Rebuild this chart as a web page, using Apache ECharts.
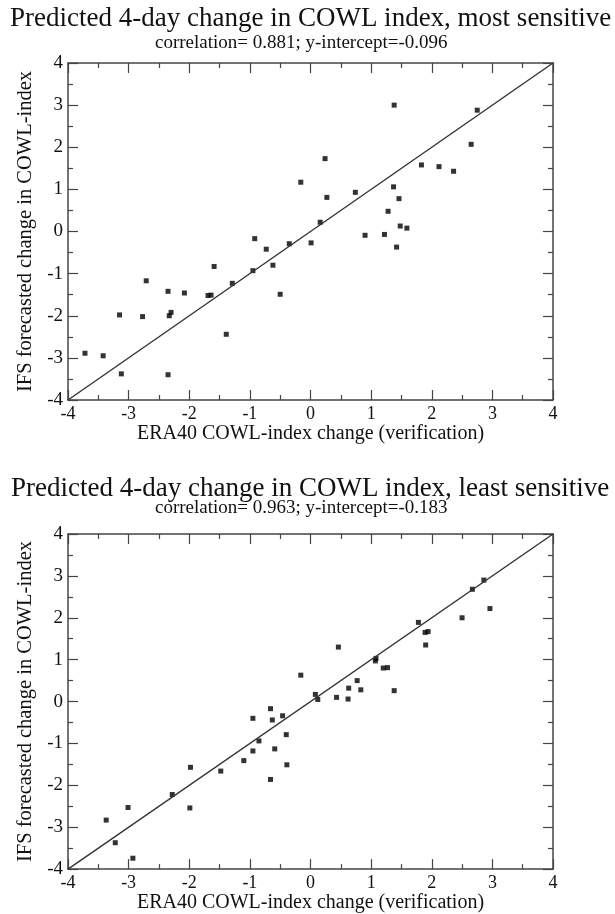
<!DOCTYPE html>
<html>
<head>
<meta charset="utf-8">
<script src="https://cdn.jsdelivr.net/npm/echarts@6/dist/echarts.min.js"></script>
<style>
  html, body {margin: 0; padding: 0; background: #fff;}
  #main {width: 615px; height: 914px;}
</style>
</head>
<body>
<div id="main"></div>
<script>
// top panel: most sensitive
const topX = [-3.72, -3.42, -3.15, -3.12, -2.77, -2.71, -2.35, -2.35, -2.33, -2.30, -2.08, -1.69, -1.64, -1.59,
  -1.39, -1.29, -0.95, -0.92, -0.73, -0.62, -0.50, -0.35, -0.16, 0.01, 0.16, 0.24, 0.27, 0.74, 0.90, 1.22,
  1.28, 1.37, 1.38, 1.42, 1.46, 1.48, 1.59, 1.83, 2.12, 2.36, 2.65, 2.75];
const topY = [-2.89, -2.95, -1.98, -3.38, -2.02, -1.17, -1.42, -3.40, -2.00, -1.92, -1.46, -1.52, -1.51, -0.83,
  -2.44, -1.23, -0.93, -0.17, -0.42, -0.80, -1.49, -0.29, 1.17, -0.27, 0.22, 1.73, 0.81, 0.93, -0.09, -0.07,
  0.48, 1.06, 3.00, -0.37, 0.78, 0.13, 0.08, 1.58, 1.54, 1.43, 2.07, 2.88];

// bottom panel: least sensitive
const bottomX = [-3.37, -3.22, -3.01, -2.93, -2.28, -1.99, -1.98, -1.48, -1.10, -0.95, -0.95, -0.85, -0.66, -0.66,
  -0.63, -0.59, -0.46, -0.40, -0.39, -0.16, 0.08, 0.12, 0.43, 0.46, 0.62, 0.63, 0.77, 0.83, 1.07, 1.08,
  1.20, 1.27, 1.38, 1.78, 1.89, 1.94, 1.90, 2.50, 2.67, 2.86, 2.96];
const bottomY = [-2.83, -3.37, -2.53, -3.74, -2.22, -2.54, -1.57, -1.66, -1.41, -0.40, -1.18, -0.94, -0.17, -1.86,
  -0.44, -1.13, -0.34, -0.79, -1.51, 0.63, 0.17, 0.05, 0.10, 1.30, 0.06, 0.32, 0.50, 0.28, 0.97, 1.03,
  0.80, 0.81, 0.26, 1.89, 1.65, 1.67, 1.35, 2.00, 2.68, 2.90, 2.22];

// fitted line drawn corner to corner
const fitLine = [[-4, -4], [4, 4]];
const axisMin = -4, axisMax = 4, axisStep = 1;

const titles = ['Predicted 4-day change in COWL index, most sensitive',
  'Predicted 4-day change in COWL index, least sensitive'];
const subtitles = ['correlation= 0.881; y-intercept=-0.096', 'correlation= 0.963; y-intercept=-0.183'];
const xName = 'ERA40 COWL-index change (verification)';
const yName = 'IFS forecasted change in COWL-index';

const serif = "'Liberation Serif', 'Times New Roman', serif";
const frameColor = '#444';

const zip = (xs, ys) => xs.map((x, i) => [x, ys[i]]);

const axisBase = (gridIndex, position, showLabel) => ({
  type: 'value',
  gridIndex,
  position,
  min: axisMin,
  max: axisMax,
  interval: axisStep,
  splitLine: {show: false},
  axisLine: {show: true, onZero: false, lineStyle: {color: frameColor, width: 1.5}},
  axisTick: {show: true, inside: true, length: 10, lineStyle: {color: frameColor, width: 1.2}},
  minorTick: {show: true, splitNumber: 2, length: 5, lineStyle: {color: frameColor, width: 1.2}},
  axisLabel: {show: showLabel, color: '#111', fontFamily: serif, fontSize: 18},
});

const xAxes = [], yAxes = [];
[0, 1].forEach(g => {
  xAxes.push(Object.assign(axisBase(g, 'bottom', true), {
    name: xName, nameLocation: 'middle', nameGap: 21,
    nameTextStyle: {color: '#111', fontFamily: serif, fontSize: 20},
    axisLabel: {show: true, color: '#111', fontFamily: serif, fontSize: 18, margin: 5},
  }));
  xAxes.push(axisBase(g, 'top', false));
  yAxes.push(Object.assign(axisBase(g, 'left', true), {
    name: yName, nameLocation: 'middle', nameGap: 24,
    nameTextStyle: {color: '#111', fontFamily: serif, fontSize: 20.5},
    axisLabel: {show: true, color: '#111', fontFamily: serif, fontSize: 19, margin: 5},
  }));
  yAxes.push(axisBase(g, 'right', false));
});

const chart = echarts.init(document.getElementById('main'), null, {renderer: 'canvas'});
chart.setOption({
  animation: false,
  backgroundColor: '#fff',
  title: [
    {text: titles[0], left: 10, top: 5, padding: 0, textStyle: {color: '#111', fontFamily: serif, fontSize: 27, fontWeight: 'normal'}},
    {text: subtitles[0], left: 155, top: 34, padding: 0, textStyle: {color: '#111', fontFamily: serif, fontSize: 19, fontWeight: 'normal'}},
    {text: titles[1], left: 11, top: 475, padding: 0, textStyle: {color: '#111', fontFamily: serif, fontSize: 27, fontWeight: 'normal'}},
    {text: subtitles[1], left: 155, top: 499, padding: 0, textStyle: {color: '#111', fontFamily: serif, fontSize: 19, fontWeight: 'normal'}},
  ],
  grid: [
    {left: 68, top: 63, width: 485, height: 337},
    {left: 68, top: 534, width: 485, height: 337},
  ],
  xAxis: xAxes,
  yAxis: yAxes,
  series: [
    {type: 'line', xAxisIndex: 0, yAxisIndex: 0, data: fitLine, showSymbol: false, lineStyle: {color: '#333', width: 1.4}},
    {type: 'scatter', xAxisIndex: 0, yAxisIndex: 0, data: zip(topX, topY), symbol: 'rect', symbolSize: 5, itemStyle: {color: '#000'}},
    {type: 'line', xAxisIndex: 2, yAxisIndex: 2, data: fitLine, showSymbol: false, lineStyle: {color: '#333', width: 1.4}},
    {type: 'scatter', xAxisIndex: 2, yAxisIndex: 2, data: zip(bottomX, bottomY), symbol: 'rect', symbolSize: 5, itemStyle: {color: '#000'}},
  ],
});
</script>
</body>
</html>
